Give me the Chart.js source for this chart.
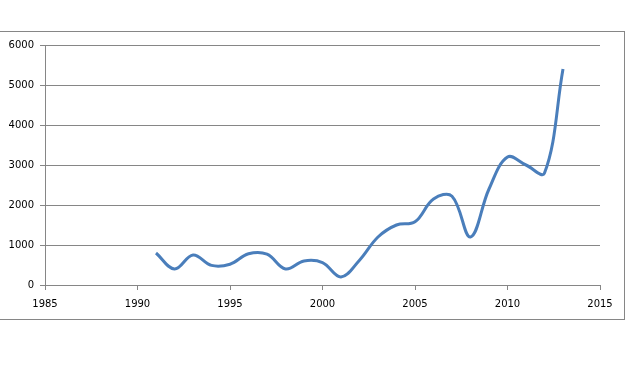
<!DOCTYPE html>
<html>
<head>
<meta charset="utf-8">
<script src="https://cdn.jsdelivr.net/npm/chart.js@4/dist/chart.umd.min.js"></script>
<style>
  html, body { margin: 0; padding: 0; background: #fff; }
  #wrap { position: relative; width: 632px; height: 370px; }
</style>
</head>
<body>
<div id="wrap"><canvas id="myChart" width="632" height="370"></canvas></div>
<script>
// data
const years = [1991, 1992, 1993, 1994, 1995, 1996, 1997, 1998, 1999, 2000, 2001, 2002,
               2003, 2004, 2005, 2006, 2007, 2008, 2009, 2010, 2011, 2012, 2013];
const values = [800, 400, 750, 490, 520, 780, 770, 400, 600, 560, 200, 620,
                1200, 1500, 1580, 2150, 2220, 1200, 2400, 3200, 3000, 2800, 5400];
const xTicks = [1985, 1990, 1995, 2000, 2005, 2010, 2015];
const yTicks = [0, 1000, 2000, 3000, 4000, 5000, 6000];

const points = years.map((y, i) => ({ x: y, y: values[i] }));
const gray = '#868686';

// outer chart frame like the spreadsheet export
const framePlugin = {
    id: 'frame',
    beforeDraw(chart) {
        const ctx = chart.ctx;
        ctx.save();
        ctx.fillStyle = '#fff';
        ctx.fillRect(0, 0, chart.width, chart.height);
        ctx.strokeStyle = gray;
        ctx.lineWidth = 1;
        ctx.strokeRect(-1.5, 31.5, 626, 288);
        ctx.restore();
    }
};

new Chart(document.getElementById('myChart'), {
    type: 'scatter',
    data: {
        datasets: [{
            data: points,
            showLine: true,
            borderColor: '#4a7ebb',
            borderWidth: 3,
            pointRadius: 0,
            tension: 0.38,
            fill: false
        }]
    },
    options: {
        responsive: false,
        animation: false,
        layout: { padding: { top: 45, right: 32, left: 0, bottom: 0 } },
        plugins: {
            legend: { display: false },
            tooltip: { enabled: false }
        },
        scales: {
            x: {
                type: 'linear',
                min: xTicks[0],
                max: xTicks[xTicks.length - 1],
                afterBuildTicks: axis => { axis.ticks = xTicks.map(v => ({ value: v })); },
                afterFit: axis => { axis.height = 85; },
                grid: { drawOnChartArea: false, drawTicks: true, tickLength: 5, color: gray },
                border: { display: true, color: gray },
                ticks: {
                    padding: 8,
                    color: '#000',
                    font: { family: 'DejaVu Sans', size: 10 },
                    callback: v => String(v)
                }
            },
            y: {
                min: yTicks[0],
                max: yTicks[yTicks.length - 1],
                afterBuildTicks: axis => { axis.ticks = yTicks.map(v => ({ value: v })); },
                afterFit: axis => { axis.width = 45; },
                grid: { drawOnChartArea: true, drawTicks: true, tickLength: 5, color: gray },
                border: { display: true, color: gray },
                ticks: {
                    padding: 6,
                    color: '#000',
                    font: { family: 'DejaVu Sans', size: 10 },
                    callback: v => String(v)
                }
            }
        }
    },
    plugins: [framePlugin]
});
</script>
</body>
</html>
